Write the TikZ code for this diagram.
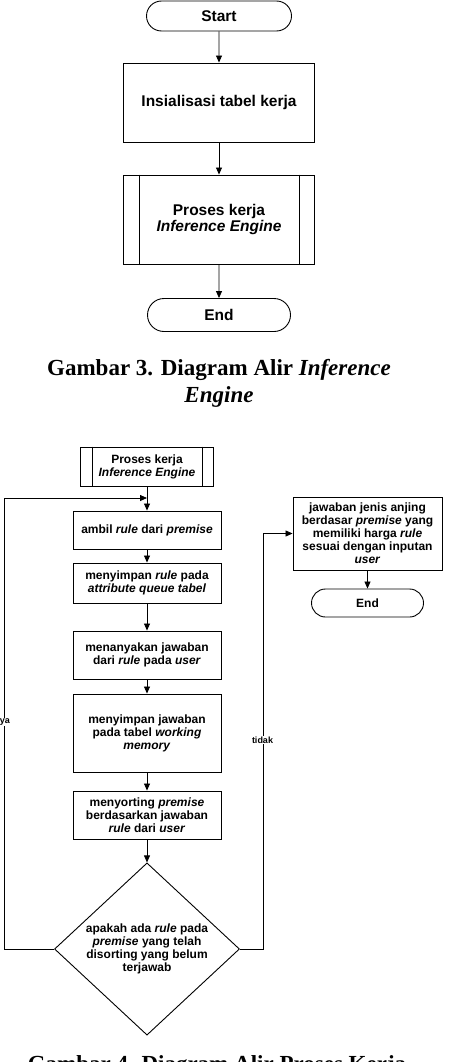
\documentclass[tikz,border=0pt]{standalone}
\usepackage{fontspec}
\setmainfont{Liberation Serif}
\setsansfont{Liberation Sans}
\usepackage{tikz}
\usetikzlibrary{shapes,arrows.meta,positioning,calc}

\begin{document}
\begin{tikzpicture}[x=1pt, y=-1pt,
    teks/.style={font=\sffamily\bfseries\fontsize{12}{13}\selectfont, align=center},
    teksbesar/.style={font=\sffamily\bfseries\fontsize{15.5}{16}\selectfont, align=center},
    terminal/.style={draw, rounded rectangle, line width=0.9pt, inner sep=0pt},
    proses/.style={draw, rectangle, line width=0.9pt, inner sep=0pt},
    keputusan/.style={draw, diamond, line width=0.9pt, inner sep=0pt, minimum width=185pt, minimum height=160pt},
    panah/.style={-{Triangle[length=7pt,width=6pt]}, line width=0.8pt},
    ket/.style={fill=white, inner sep=1pt, font=\sffamily\bfseries\fontsize{9}{9}\selectfont},
    judul/.style={font=\rmfamily\bfseries\fontsize{23}{27}\selectfont, align=center}]
    \useasboundingbox (0,0) rectangle (470,1062);
    \clip (0,0) rectangle (470,1062);

    % Diagram alir inference engine
    \node[terminal, teksbesar, minimum width=145pt, minimum height=30pt] (start) at (219,16) {Start};
    \node[proses, teksbesar, minimum width=191pt, minimum height=79pt] (init) at (219,102.5) {Insialisasi tabel kerja};
    \node[proses, teksbesar, minimum width=191pt, minimum height=89pt] (ie) at (219,219.5) {Proses kerja\\\textit{Inference Engine}};
    \draw[line width=0.9pt] ([xshift=16pt]ie.north west) -- ([xshift=16pt]ie.south west)
        ([xshift=-16pt]ie.north east) -- ([xshift=-16pt]ie.south east);
    \node[terminal, teksbesar, minimum width=143pt, minimum height=33pt] (end) at (219,315) {End};
    \draw[panah] (start) -- (init);
    \draw[panah] (init) -- (ie);
    \draw[panah] (ie) -- (end);
    \node[judul] (cap3) at (219,383) {Gambar 3. Diagram Alir \textit{Inference}\\\textit{Engine}};

    % Diagram alir proses kerja
    \node[proses, teks, minimum width=133pt, minimum height=39pt] (ie2) at (147,466.5) {Proses kerja\\\textit{Inference Engine}};
    \draw[line width=0.9pt] ([xshift=12pt]ie2.north west) -- ([xshift=12pt]ie2.south west)
        ([xshift=-12pt]ie2.north east) -- ([xshift=-12pt]ie2.south east);
    \coordinate (gabung) at (147,498);
    \node[proses, teks, minimum width=148pt, minimum height=38pt] (ambil) at (147,530) {ambil \textit{rule} dari \textit{premise}};
    \node[proses, teks, minimum width=148pt, minimum height=40pt] (simpan) at (147,583) {menyimpan \textit{rule} pada\\\textit{attribute queue tabel}};
    \node[proses, teks, minimum width=148pt, minimum height=48pt] (tanya) at (147,655) {menanyakan jawaban\\dari \textit{rule} pada \textit{user}};
    \node[proses, teks, minimum width=148pt, minimum height=78pt] (memori) at (147,733) {menyimpan jawaban\\pada tabel \textit{working}\\\textit{memory}};
    \node[proses, teks, minimum width=148pt, minimum height=48pt] (sortir) at (147,815) {menyorting \textit{premise}\\berdasarkan jawaban\\\textit{rule} dari \textit{user}};
    \node[keputusan, teks] (cek) at (147,949) {apakah ada \textit{rule} pada\\\textit{premise} yang telah\\disorting yang belum\\terjawab};
    \node[proses, teks, minimum width=149pt, minimum height=73pt] (hasil) at (367.5,533.5) {jawaban jenis anjing\\berdasar \textit{premise} yang\\memiliki harga \textit{rule}\\sesuai dengan inputan\\\textit{user}};
    \node[terminal, teks, minimum width=112pt, minimum height=28pt] (end2) at (367.5,603) {End};

    \draw[panah] (ie2) -- (ambil);
    \draw[panah] (ambil) -- (simpan);
    \draw[panah] (simpan) -- (tanya);
    \draw[panah] (tanya) -- (memori);
    \draw[panah] (memori) -- (sortir);
    \draw[panah] (sortir) -- (cek);
    \draw[panah] (cek.west) -- ++(-49.5,0) |- (gabung);
    \draw[panah] (cek.east) -- ++(23,0) |- (hasil.west);
    \draw[panah] (hasil) -- (end2);
    \node[ket] (ya) at (5,722) {ya};
    \node[ket] (tidak) at (262.5,740) {tidak};

    \node[judul, anchor=base] (cap4) at (217,1071) {Gambar 4. Diagram Alir Proses Kerja};
\end{tikzpicture}
\end{document}
